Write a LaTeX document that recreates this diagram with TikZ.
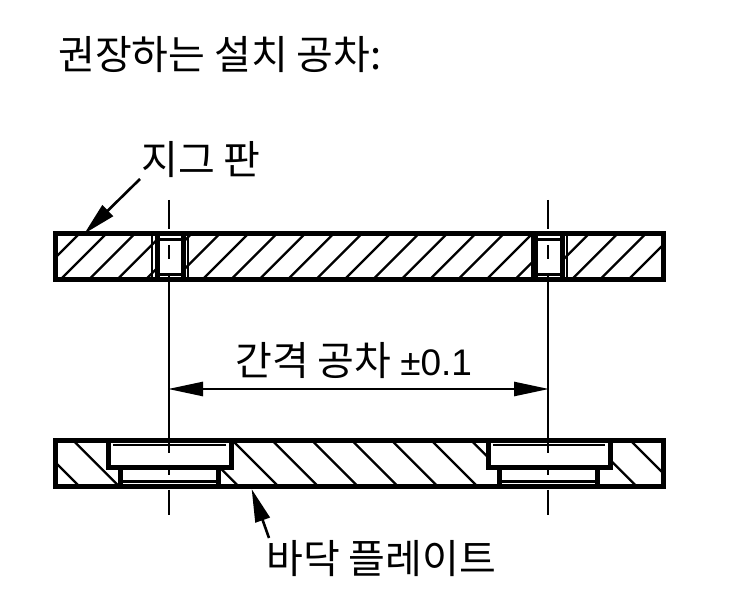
\documentclass[tikz,border=0pt]{standalone}
\usepackage{fontspec}
\setmainfont{Noto Sans CJK KR}[Scale=1]
\newfontfamily\latinfont{Liberation Sans}
\usetikzlibrary{arrows.meta}
\tikzset{
  outline/.style={line width=5pt,line join=miter},
  midline/.style={line width=3pt},
  thinline/.style={line width=2pt},
  hatchline/.style={line width=2.3pt},
  axisline/.style={line width=2.6pt},
  leader/.style={line width=2.6pt,-{Triangle[length=33pt,width=15pt]},shorten >=-1pt},
  dimline/.style={line width=2.6pt,{Triangle[length=35pt,width=14pt]}-{Triangle[length=35pt,width=14pt]},shorten >=-1pt,shorten <=-1pt},
  caption/.style={anchor=west,inner sep=0pt,text=black,font=\fontsize{40}{46}\selectfont}
}
\begin{document}
\begin{tikzpicture}[x=1pt,y=1pt,yscale=-1,xscale=1]
\useasboundingbox (0,0) rectangle (750,609);

%Hatching of the jig plate
\begin{scope}[even odd rule]
\clip (55,234) rectangle (663,280) (157,234) rectangle (183,280) (535,234) rectangle (562,280);
\foreach \xb in {0,...,20}
  \draw [hatchline] (60+28.4*\xb,280) -- (60+28.4*\xb+50,230);
\draw [hatchline] (55,258) -- (80,233);
\end{scope}
%Hatching of the base plate
\begin{scope}[even odd rule]
\clip (55,441) rectangle (663,487) (108,441) rectangle (231,468) (120,468) rectangle (218,487)
  (488,441) rectangle (610,468) (499,468) rectangle (597,487);
\foreach \xb in {0,...,15}
  \draw [hatchline] (80+39.8*\xb,487) -- (80+39.8*\xb-50,437);
\end{scope}

%Jig plate
\draw [outline] (55,234) rectangle (663,280);
\draw [thinline] (152,234) -- (152,280) (188,234) -- (188,280);
\draw [outline] (157,234) -- (157,280) (183,234) -- (183,280);
\draw [midline] (157,240) -- (183,240) (157,275) -- (183,275);
\draw [thinline] (532,234) -- (532,280) (567,234) -- (567,280);
\draw [outline] (535,234) -- (535,280) (562,234) -- (562,280);
\draw [midline] (535,240) -- (562,240) (535,275) -- (562,275);

%Base plate
\draw [outline] (55,441) rectangle (663,487);
\draw [outline] (108,441) -- (108,468) -- (231,468) -- (231,441);
\draw [outline] (120,468) -- (120,487) (218,468) -- (218,487);
\draw [thinline] (113,445.5) -- (226,445.5);
\draw [midline] (122,481.5) -- (216,481.5);
\draw [outline] (488,441) -- (488,468) -- (610,468) -- (610,441);
\draw [outline] (499,468) -- (499,487) (597,468) -- (597,487);
\draw [thinline] (493,445.5) -- (605,445.5);
\draw [midline] (501,481.5) -- (595,481.5);

%Centre lines
\foreach \xc/\nm in {169/axl,548/axr}{
  \coordinate (\nm a) at (\xc,200);
  \coordinate (\nm b) at (\xc,229);
  \coordinate (\nm c) at (\xc,245);
  \coordinate (\nm d) at (\xc,259);
  \coordinate (\nm e) at (\xc,273);
  \coordinate (\nm f) at (\xc,453);
  \coordinate (\nm g) at (\xc,465);
  \coordinate (\nm h) at (\xc,475);
  \coordinate (\nm i) at (\xc,490);
  \coordinate (\nm j) at (\xc,515);
  \draw [axisline] (\nm a) -- (\nm b) (\nm c) -- (\nm d) (\nm e) -- (\nm f) (\nm g) -- (\nm h) (\nm i) -- (\nm j);
}

%Dimension
\coordinate (dimleft) at (169,389);
\coordinate (dimright) at (548,389);
\draw [dimline] (dimleft) -- (dimright);

% Text Node
\node (title) [caption] at (58,55) {권장하는 설치 공차:};
% Text Node
\node (jiglabel) [caption] at (141,160) {지그 판};
% Text Node
\node (gaplabel) [caption] at (235,361) {간격 공차 {\latinfont\fontsize{37}{42}\selectfont ±0.1}};
% Text Node
\node (baselabel) [caption] at (266,559) {바닥 플레이트};

%Leaders
\coordinate (jigfoot) at (140,179);
\coordinate (jigtip) at (85,233);
\coordinate (basetip) at (252,490);
\coordinate (basefoot) at (269,538);
\draw [leader] (jigfoot) -- (jigtip);
\draw [leader] (basefoot) -- (basetip);
\end{tikzpicture}
\end{document}
